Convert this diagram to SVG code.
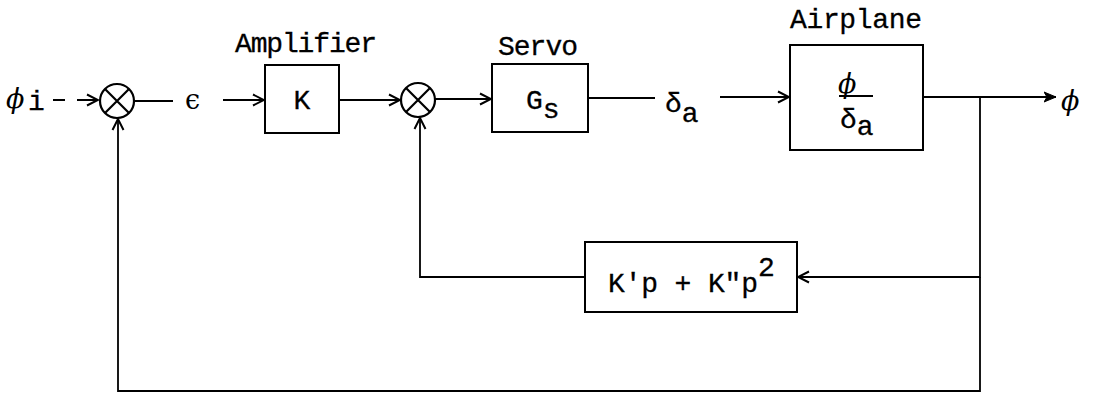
<svg xmlns="http://www.w3.org/2000/svg" width="1099" height="394" viewBox="0 0 1099 394">
<style>
.box{fill:none;stroke:#000;stroke-width:2}
.sum{fill:none;stroke:#000;stroke-width:2.2}
.ln{fill:none;stroke:#000;stroke-width:1.8}
.t{font-family:"Liberation Mono","DejaVu Sans Mono",monospace;font-size:28px;fill:#000;stroke:#000;stroke-width:0.3}
.g{font-family:"DejaVu Serif","Liberation Serif",serif;font-size:27px;fill:#000}
</style>
<defs>
<marker id="arr" markerUnits="userSpaceOnUse" markerWidth="14" markerHeight="14" refX="12" refY="7" orient="auto">
<path d="M1,1.5 L12,7 L1,12.5" fill="none" stroke="#000" stroke-width="2"/>
</marker>
<marker id="arrf" markerUnits="userSpaceOnUse" markerWidth="14" markerHeight="14" refX="12" refY="7" orient="auto">
<path d="M0,2 L12,7 L0,12 L3,7 Z" fill="#000" stroke="#000" stroke-width="1"/>
</marker>
</defs>
<rect width="1099" height="394" fill="#fff"/>

<g id="connectors">
<path class="ln" d="M53,100 H65 M77,100 H98" marker-end="url(#arr)"/>
<path class="ln" d="M134,101 H173"/>
<path class="ln" d="M223,100 H264" marker-end="url(#arr)"/>
<path class="ln" d="M339,100 H400" marker-end="url(#arr)"/>
<path class="ln" d="M435,99 H491" marker-end="url(#arr)"/>
<path class="ln" d="M588,98 H655"/>
<path class="ln" d="M720,97 H789" marker-end="url(#arr)"/>
<path class="ln" d="M923,97 H1056" marker-end="url(#arrf)"/>
<path class="ln" d="M980,97 V277 H798" marker-end="url(#arr)"/>
<path class="ln" d="M585,277 H420 V118" marker-end="url(#arr)"/>
<path class="ln" d="M980,277 V391 H118 V119" marker-end="url(#arr)"/>
</g>

<g id="input">
<text class="g" x="6" y="108" font-style="italic">ϕ</text>
<text class="t" x="28" y="110" font-size="24">i</text>
</g>

<g id="sum1">
<circle class="sum" cx="117" cy="101" r="17"/>
<path class="sum" d="M105,89 L129,113 M129,89 L105,113"/>
</g>

<g id="error">
<text class="g" x="185" y="109">ϵ</text>
</g>

<g id="amplifier">
<text class="t" x="235" y="52" textLength="142" lengthAdjust="spacing">Amplifier</text>
<rect class="box" x="265" y="65" width="74" height="68"/>
<text class="t" x="302" y="109" text-anchor="middle">K</text>
</g>

<g id="sum2">
<circle class="sum" cx="418" cy="100" r="17"/>
<path class="sum" d="M406,88 L430,112 M430,88 L406,112"/>
</g>

<g id="servo">
<text class="t" x="498" y="55" textLength="80" lengthAdjust="spacing">Servo</text>
<rect class="box" x="492" y="64" width="96" height="68"/>
<text class="t" x="526" y="109">G<tspan dy="9">s</tspan></text>
</g>

<g id="delta">
<text class="t" x="665" y="112">δ<tspan dy="10">a</tspan></text>
</g>

<g id="airplane">
<text class="t" x="790" y="28" textLength="132" lengthAdjust="spacing">Airplane</text>
<rect class="box" x="790" y="45" width="133" height="105"/>
<text class="g" x="838" y="93" font-style="italic">ϕ</text>
<line class="ln" x1="839" y1="96" x2="873" y2="96"/>
<text class="t" x="840" y="128">δ<tspan dy="7">a</tspan></text>
</g>

<g id="output">
<text class="g" x="1061" y="110" font-style="italic">ϕ</text>
</g>

<g id="feedback">
<rect class="box" x="585" y="242" width="212" height="70"/>
<text class="t" x="608" y="292" textLength="150" lengthAdjust="spacing">K'p + K"p</text>
<text class="t" x="758" y="276" font-size="22">2</text>
</g>
</svg>
